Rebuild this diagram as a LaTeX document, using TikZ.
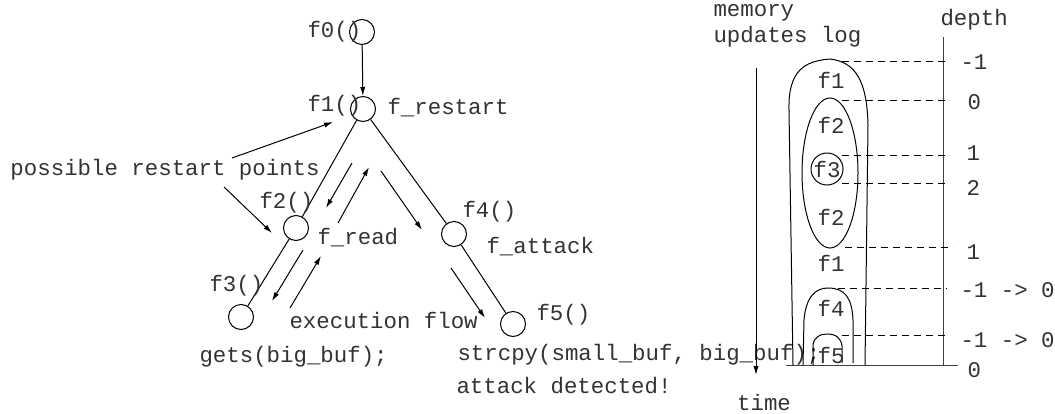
\documentclass[tikz,border=0pt]{standalone}
\usepackage{fontspec}
\newfontfamily\codefont{Liberation Mono}
\usetikzlibrary{arrows.meta}

\begin{document}
\begin{tikzpicture}[
	x=0.5pt, y=-0.5pt,
	line width=0.5pt,
	>={Latex[length=4.5pt,width=2.6pt]},
	fn/.style={circle, draw, minimum size=12.5pt, inner sep=0pt},
	lbl/.style={anchor=west, inner sep=0pt, text=black!80, font=\codefont\fontsize{11.2}{13}\selectfont},
	guide/.style={dash pattern=on 3.5pt off 2.5pt},
	]
	\useasboundingbox (0,0) rectangle (1055,413);

	% call tree
	\node[fn] (f0) at (362,32) {};
	\node[fn] (f1) at (363,109) {};
	\node[fn] (f2) at (296,228) {};
	\node[fn] (f3) at (241,317) {};
	\node[fn] (f4) at (454,234) {};
	\node[fn] (f5) at (513,324) {};
	\draw[->] (f0) -- (f1);
	\draw (f1) -- (f2) (f2) -- (f3) (f1) -- (f4) (f4) -- (f5);

	\node[lbl] (f0name) at (307,32) {f0()};
	\node[lbl] (f1name) at (307,106) {f1()};
	\node[lbl] (restart) at (387,108) {f\_restart};
	\node[lbl] (f2name) at (259,203) {f2()};
	\node[lbl] (read) at (317,238) {f\_read};
	\node[lbl] (f3name) at (209,286) {f3()};
	\node[lbl] (f4name) at (462,212) {f4()};
	\node[lbl] (attack) at (486,247) {f\_attack};
	\node[lbl] (f5name) at (536,315) {f5()};
	\node[lbl] (gets) at (199,357) {gets(big\_buf);};
	\node[lbl] (flow) at (289,320) {execution flow};
	\node[lbl] (strcpy) at (457,355) {strcpy(small\_buf, big\_buf);};
	\node[lbl] (detected) at (456,386) {attack detected!};
	\node[lbl] (points) at (10,170) {possible restart points};

	% restart pointers
	\coordinate (rpa) at (232,158);
	\coordinate (rpb) at (333,122);
	\coordinate (rpc) at (224,187);
	\coordinate (rpd) at (272,233);
	\draw[->] (rpa) -- (rpb);
	\draw[->] (rpc) -- (rpd);

	% execution flow
	\coordinate (ea0) at (352,163); \coordinate (ea1) at (326,208);
	\coordinate (eb0) at (338,223); \coordinate (eb1) at (369,167);
	\coordinate (ec0) at (381,171); \coordinate (ec1) at (422,230);
	\coordinate (ed0) at (303,250); \coordinate (ed1) at (272,301);
	\coordinate (ee0) at (290,308); \coordinate (ee1) at (321,256);
	\coordinate (ef0) at (451,268); \coordinate (ef1) at (485,318);
	\draw[->] (ea0) -- (ea1);
	\draw[->] (eb0) -- (eb1);
	\draw[->] (ec0) -- (ec1);
	\draw[->] (ed0) -- (ed1);
	\draw[->] (ee0) -- (ee1);
	\draw[->] (ef0) -- (ef1);

	% memory updates log
	\node[lbl] (memory) at (713,13) {memory};
	\node[lbl] (updates) at (713,37) {updates log};
	\coordinate (time0) at (756,68);
	\coordinate (time1) at (756,375);
	\draw[->] (time0) -- (time1);
	\node[lbl, anchor=center] (time) at (764,402) {time};

	\node[lbl] (depth) at (940,20) {depth};
	\coordinate (axis0) at (943,37);
	\coordinate (axis1) at (943,365);
	\coordinate (base0) at (786,365);
	\coordinate (base1) at (958,365);
	\draw[black!75] (axis0) -- (axis1);
	\draw[black!75] (base0) -- (base1);
	\node[lbl] (depthend) at (967,370) {0};

	\foreach \yd/\xa/\xb/\yl/\xl/\d in {61/842/950/62/960/-1, 100/842/950/102/967/0,
		155/842/950/153/966/1, 183/842/950/188/966/2, 247/845/953/252/966/1,
		288/838/947/290/960/-1 -> 0, 335/842/950/340/960/-1 -> 0}
	{
		\draw[guide] (\xa,\yd) -- (\xb,\yd);
		\node[lbl] (lvl\yd) at (\xl,\yl) {\d};
	}

	% frames
	\draw (793,365) -- (789,110) .. controls (788,70) and (805,61) .. (830,59)
		.. controls (855,62) and (867,80) .. (868,125) -- (865,365);
	\draw (830,173) ellipse [x radius=28, y radius=75];
	\draw (803,365) -- (804,320) .. controls (806,296) and (816,288) .. (828,288)
		.. controls (845,288) and (852,298) .. (853,320) -- (853,363);
	\draw (813,365) -- (813,345) .. controls (814,337) and (820,334) .. (827,334)
		.. controls (836,334) and (841,338) .. (842,346) -- (842,363);
	\node[fn, minimum size=16pt, text=black!80, font=\codefont\fontsize{11.2}{13}\selectfont] (m3) at (827,169) {f3};

	\node[lbl, anchor=center] (m1a) at (831,80) {f1};
	\node[lbl, anchor=center] (m2a) at (831,125) {f2};
	\node[lbl, anchor=center] (m2b) at (831,217) {f2};
	\node[lbl, anchor=center] (m1b) at (831,263) {f1};
	\node[lbl, anchor=center] (m4) at (831,308) {f4};
	\node[lbl, anchor=center] (m5) at (831,355) {f5};
\end{tikzpicture}
\end{document}
